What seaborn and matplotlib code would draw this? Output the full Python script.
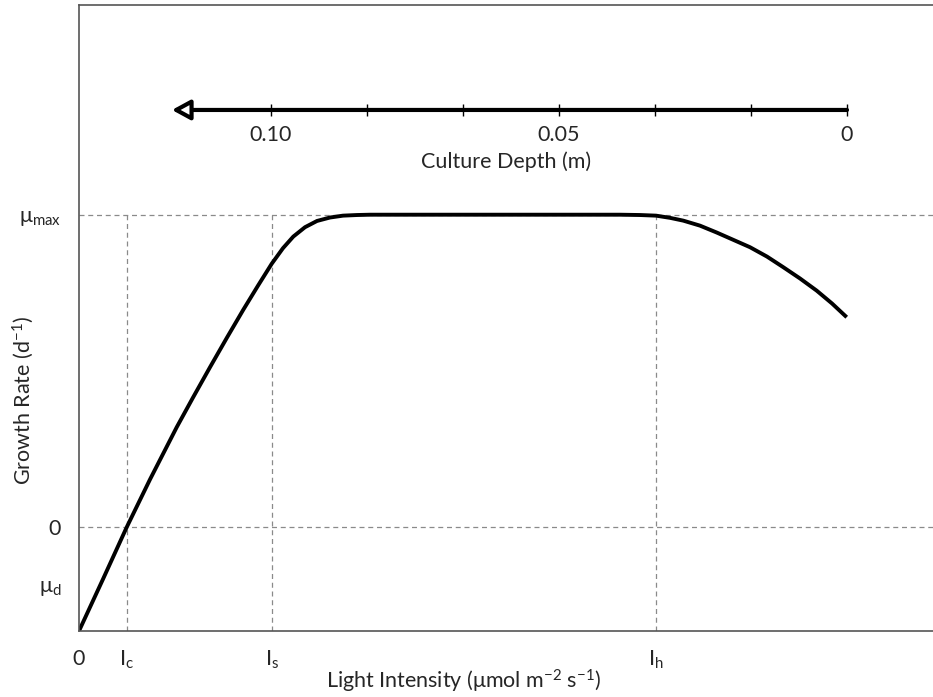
import numpy as np
import pandas as pd
import matplotlib
matplotlib.use("Agg")
import matplotlib.pyplot as plt
import seaborn as sns

# Light-response curve (relative light intensity, growth rate normalised to mu_max = 1)
light = [0, 24, 47.7, 71, 97.7, 114, 131, 148, 164.3, 179, 192.7, 204, 214.3, 226,
         238, 251, 264, 278, 291, 371, 451, 541, 561, 577, 591, 604.3, 621, 637.7,
         654, 671, 688, 704.3, 721, 737.7, 753, 767.7]
growth = [-0.332, -0.166, 0.0, 0.153, 0.320, 0.415, 0.512, 0.607, 0.696, 0.773, 0.843,
          0.893, 0.930, 0.960, 0.980, 0.991, 0.997, 0.999, 1.0, 1.0, 1.0, 1.0, 0.999,
          0.997, 0.990, 0.981, 0.965, 0.943, 0.920, 0.896, 0.866, 0.832, 0.796,
          0.757, 0.716, 0.672]

# Characteristic light intensities
I_c, I_s, I_h = 47.7, 192.7, 577
x_ticks = [0, I_c, I_s, I_h]
x_labels = ["0", r"$\mathregular{I_c}$", r"$\mathregular{I_s}$", r"$\mathregular{I_h}$"]

# Growth-rate reference levels
mu_max, mu_zero, mu_d = 1.0, 0.0, -0.185
y_ticks = [mu_d, mu_zero, mu_max]
y_labels = [r"$\mathregular{\mu_d}$", "0", r"$\mathregular{\mu_{max}}$"]

# Culture depth scale drawn above the curve
depth_ticks = [0, 0.05 / 3, 0.10 / 3, 0.05, 0.20 / 3, 0.25 / 3, 0.10]
depth_labels = ["0", "", "", "0.05", "", "", "0.10"]
depth_arrow_end = 0.1172

FS = 15.5

sns.set_theme(style="white")
plt.rcParams["font.family"] = ["Lato", "DejaVu Sans"]
plt.rcParams["mathtext.fontset"] = "custom"
plt.rcParams["mathtext.rm"] = "Lato"
plt.rcParams["mathtext.it"] = "Lato"
plt.rcParams["axes.unicode_minus"] = False

fig = plt.figure(figsize=(9.33, 6.97), dpi=100)
ax = fig.add_axes([79 / 933, 66 / 697, 1 - 79 / 933, 626 / 697])

df = pd.DataFrame({"light": light, "growth": growth})
sns.lineplot(data=df, x="light", y="growth", ax=ax, color="black", linewidth=2.8,
             sort=False, estimator=None, solid_joinstyle="round", solid_capstyle="butt")

ax.set_xlim(0, 854)
ax.set_ylim(-0.332, 1.671)

dash_kw = dict(color="#8a8a8a", linewidth=0.9, linestyle=(0, (4, 3)), zorder=1)
ax.axhline(mu_max, **dash_kw)
ax.axhline(mu_zero, **dash_kw)
for xv in (I_c, I_s, I_h):
    ax.plot([xv, xv], [-0.332, mu_max], **dash_kw)

ax.set_xticks(x_ticks)
ax.set_xticklabels(x_labels, fontsize=FS)
ax.set_yticks(y_ticks)
ax.set_yticklabels(y_labels, fontsize=FS)
ax.tick_params(axis="both", length=0)
ax.tick_params(axis="x", pad=13)
ax.tick_params(axis="y", pad=13)

ax.set_xlabel("Light Intensity (\u03bcmol m$^{\\mathregular{-2}}$ s$^{\\mathregular{-1}}$)",
              fontsize=FS)
ax.xaxis.set_label_coords((464 - 79) / 854, -0.058)
ax.set_ylabel(r"Growth Rate (d$^{\mathregular{-1}}$)", fontsize=FS)
ax.yaxis.set_label_coords(-0.05, (631 - 400) / 626)

for side in ("left", "top", "bottom"):
    ax.spines[side].set_color("#555555")
    ax.spines[side].set_linewidth(1.2)
ax.spines["right"].set_visible(False)

# Depth axis: 0 m on the right, increasing to the left
ax2 = fig.add_axes([79 / 933, (697 - 110) / 697, 1 - 79 / 933, 0.0001])
ax2.set_xlim((847 - 79) / 5760, (847 - 933) / 5760)
ax2.set_ylim(-1, 1)
ax2.patch.set_alpha(0)
for s in ax2.spines.values():
    s.set_visible(False)
ax2.set_yticks([])
ax2.set_xticks(depth_ticks)
ax2.set_xticklabels(depth_labels, fontsize=FS)
ax2.tick_params(axis="x", bottom=True, direction="inout", length=9, width=1.0,
                color="black", pad=6)
ax2.annotate("", xy=(depth_arrow_end, 0), xytext=(0, 0),
             xycoords="data", textcoords="data",
             arrowprops=dict(arrowstyle="-|>,head_length=0.55,head_width=0.3",
                             mutation_scale=20,
                             facecolor="white", edgecolor="black", linewidth=3,
                             shrinkA=0, shrinkB=0))
ax2.set_xlabel("Culture Depth (m)", fontsize=FS, labelpad=5)

fig.savefig("out.png", dpi=100)
